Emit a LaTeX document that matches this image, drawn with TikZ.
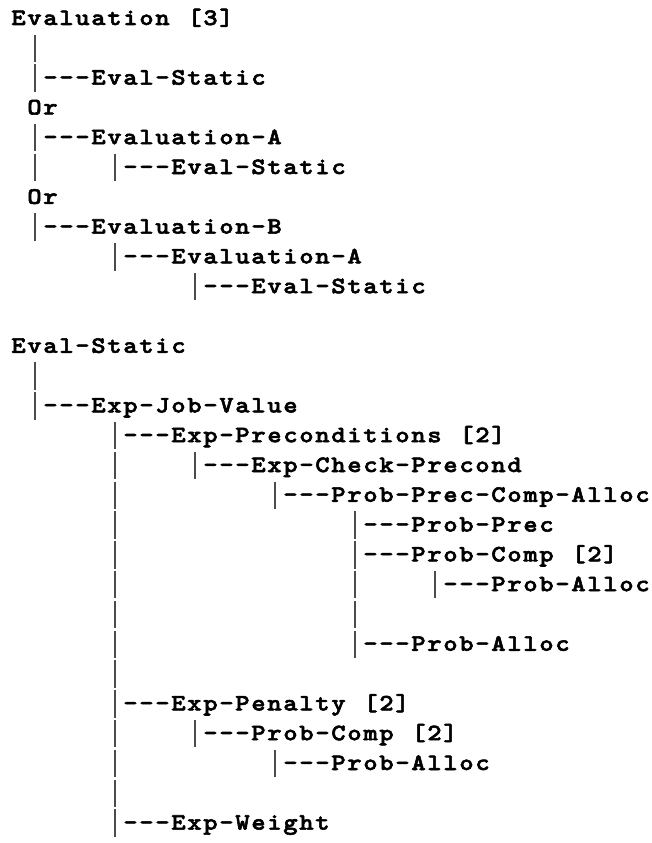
\documentclass[tikz,border=0pt]{standalone}
\usepackage{fontspec}
% heavy, slightly widened typewriter face
\newfontfamily\treeff{lmmonolt10-bold.otf}[FakeBold=2.4, FakeStretch=1.16]

% one character per fixed-width cell, like a terminal listing
\newlength\cellw
\setlength\cellw{16pt}
\makeatletter
\def\cells#1{\cells@loop#1\cells@end}
\def\cells@loop#1{\ifx#1\cells@end\else\makebox[\cellw][c]{#1}\expandafter\cells@loop\fi}
\makeatother

\newcommand\treefont{\treeff\fontsize{23.5}{27}\selectfont}

\tikzset{
  entry/.style={anchor=base west, inner sep=0pt, outer sep=0pt, font=\treefont},
  vbar/.style={rectangle, fill=black!70, draw=none, inner sep=0pt, outer sep=0pt,
               minimum width=1.3pt, minimum height=27.5pt},
}

% baseline of row r and left edge of column c
\newcommand\rowy[1]{25+(#1-1)*29.8}
\newcommand\colx[1]{10.5+(#1)*16}

\begin{document}
\begin{tikzpicture}[x=1pt,y=-1pt]
  \useasboundingbox (0,0) rectangle (652,843);

  % text of each row: row / column / text
  \foreach \r/\c/\t in {
      1/0/Evaluation~[3],
      3/2/---Eval-Static,
      4/1/Or,
      5/2/---Evaluation-A,
      6/7/---Eval-Static,
      7/1/Or,
      8/2/---Evaluation-B,
      9/7/---Evaluation-A,
      10/12/---Eval-Static,
      12/0/Eval-Static,
      14/2/---Exp-Job-Value,
      15/7/---Exp-Preconditions~[2],
      16/12/---Exp-Check-Precond,
      17/17/---Prob-Prec-Comp-Alloc,
      18/22/---Prob-Prec,
      19/22/---Prob-Comp~[2],
      20/27/---Prob-Alloc,
      22/22/---Prob-Alloc,
      24/7/---Exp-Penalty~[2],
      25/12/---Prob-Comp~[2],
      26/17/---Prob-Alloc,
      28/7/---Exp-Weight}
    \node[entry] (t\r) at ({\colx{\c}},{\rowy{\r}}) {\expandafter\cells\expandafter{\t}};

  % vertical tree bars: row / column
  \foreach \r/\c in {
      2/1, 3/1, 5/1, 6/1, 6/6, 8/1, 9/6, 10/11,
      13/1, 14/1,
      15/6, 16/6, 17/6, 18/6, 19/6, 20/6, 21/6, 22/6, 23/6, 24/6, 25/6, 26/6, 27/6, 28/6,
      16/11, 17/16,
      18/21, 19/21, 20/21, 21/21, 22/21,
      20/26, 25/11, 26/16}
    \node[vbar] (b\r-\c) at ({\colx{\c}+8.5},{\rowy{\r}-6.5}) {};
\end{tikzpicture}
\end{document}
